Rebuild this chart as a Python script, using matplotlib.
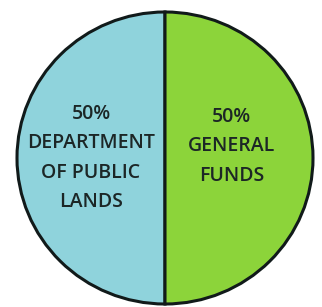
import matplotlib.pyplot as plt

# Data
labels = ["DEPARTMENT\nOF PUBLIC\nLANDS", "GENERAL\nFUNDS"]
shares = [50, 50]
colors = ["#8fd3dc", "#8cd43a"]

fig = plt.figure(figsize=(3.22, 3.07), dpi=100)
fig.patch.set_facecolor("white")
ax = fig.add_axes([17 / 322, 3 / 307, 296 / 322, 292 / 307])

wedges, _ = ax.pie(shares, colors=colors, startangle=90, radius=1,
                   wedgeprops=dict(edgecolor="#111a1a", linewidth=2.2))
ax.set_aspect("auto")
ax.set_xlim(-1.0, 1.0)
ax.set_ylim(-1.0, 1.0)

# label text, placed at the middle of each half
label_pos = [(-0.5, 0.0), (0.45, 0.08)]
for share, lab, (x, y) in zip(shares, labels, label_pos):
    ax.text(x, y, f"{share}%\n{lab}", ha="center", va="center",
            fontsize=14, fontweight="semibold", family="Open Sans",
            color="#1c2626", linespacing=1.62)

ax.axis("off")
plt.savefig("out.png", dpi=100)
